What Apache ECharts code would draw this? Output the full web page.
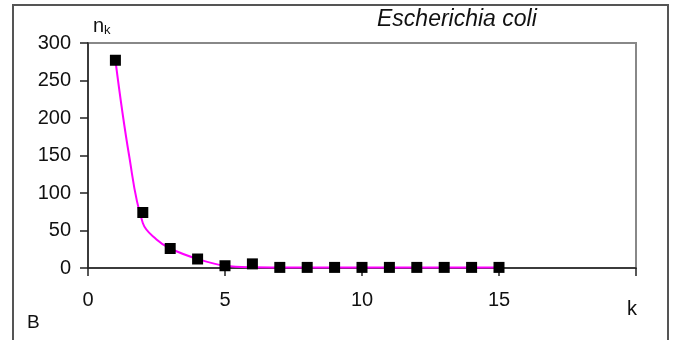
<!DOCTYPE html>
<html>
<head>
<meta charset="utf-8">
<script src="https://cdn.jsdelivr.net/npm/echarts@6/dist/echarts.min.js"></script>
<style>
  html, body { margin: 0; padding: 0; background: #fff; }
  #chart { width: 674px; height: 340px; }
</style>
</head>
<body>
<div id="chart"></div>
<script>
// measured points (k, n_k)
var kValues = [1, 2, 3, 4, 5, 6, 7, 8, 9, 10, 11, 12, 13, 14, 15];
var nValues = [277, 74, 26, 12, 3, 5.5, 0.8, 0.8, 0.8, 0.8, 0.8, 0.8, 0.8, 0.8, 0.8];
// smoothed curve
var curveK = [1, 1.5, 2, 2.5, 3, 4, 5, 6, 7, 8, 9, 10, 11, 12, 13, 14, 15];
var curveN = [277, 150, 60, 38, 26, 12, 3, 1, 0.8, 0.8, 0.8, 0.8, 0.8, 0.8, 0.8, 0.8, 0.8];
var yTicks = [0, 50, 100, 150, 200, 250, 300];

var myChart = echarts.init(document.querySelector('#chart'));

var pts = [];
for (var i = 0; i < kValues.length; i++) pts.push([kValues[i], nValues[i]]);
var curve = [];
for (var j = 0; j < curveK.length; j++) curve.push([curveK[j], curveN[j]]);

var font = 'Liberation Sans, Arial, sans-serif';

option = {
    animation: false,
    backgroundColor: '#fff',
    grid: {
        left: 88, right: 38, top: 43, bottom: 72,
        show: true, borderColor: '#888', borderWidth: 2, backgroundColor: 'transparent'
    },
    xAxis: {
        type: 'value', min: 0, max: 20, interval: 5,
        axisLine: { onZero: false, lineStyle: { color: '#222', width: 1.5 } },
        axisTick: { show: true, length: 8, lineStyle: { color: '#222', width: 1.5 } },
        axisLabel: {
            color: '#111', fontSize: 20, fontFamily: font, margin: 22,
            formatter: function (v) { return v === 20 ? '' : String(v); }
        },
        splitLine: { show: false }
    },
    yAxis: {
        type: 'value', min: yTicks[0], max: yTicks[yTicks.length - 1], interval: 50,
        axisLine: { show: true, lineStyle: { color: '#222', width: 1.5 } },
        axisTick: { show: true, length: 8, lineStyle: { color: '#222', width: 1.5 } },
        axisLabel: { color: '#111', fontSize: 20, fontFamily: font, margin: 17 },
        splitLine: { show: false }
    },
    graphic: [
        { type: 'rect', shape: { x: 13, y: 5, width: 655, height: 345 },
          style: { fill: 'none', stroke: '#555', lineWidth: 2 }, z: -1 },
        { type: 'text', left: 93, top: 16,
          style: { text: '{n|n}{k|k}', fill: '#111',
            rich: { n: { fontSize: 20, fontFamily: font }, k: { fontSize: 13, fontFamily: font, padding: [9, 0, 0, 0] } } } },
        { type: 'text', left: 377, top: 8,
          style: { text: 'Escherichia coli', fill: '#111', fontSize: 23, fontStyle: 'italic', fontFamily: font } },
        { type: 'text', left: 627, top: 299,
          style: { text: 'k', fill: '#111', fontSize: 20, fontFamily: font } },
        { type: 'text', left: 27, top: 313,
          style: { text: 'B', fill: '#111', fontSize: 19, fontFamily: font } }
    ],
    series: [
        {
            name: 'curve', type: 'line', data: curve, smooth: 0.4,
            showSymbol: false, lineStyle: { color: '#ff00ff', width: 2 }, z: 2
        },
        {
            name: 'E. coli', type: 'scatter', data: pts,
            symbol: 'rect', symbolSize: 11, itemStyle: { color: '#000', opacity: 1 }, z: 3
        }
    ]
};

myChart.setOption(option);
</script>
</body>
</html>
